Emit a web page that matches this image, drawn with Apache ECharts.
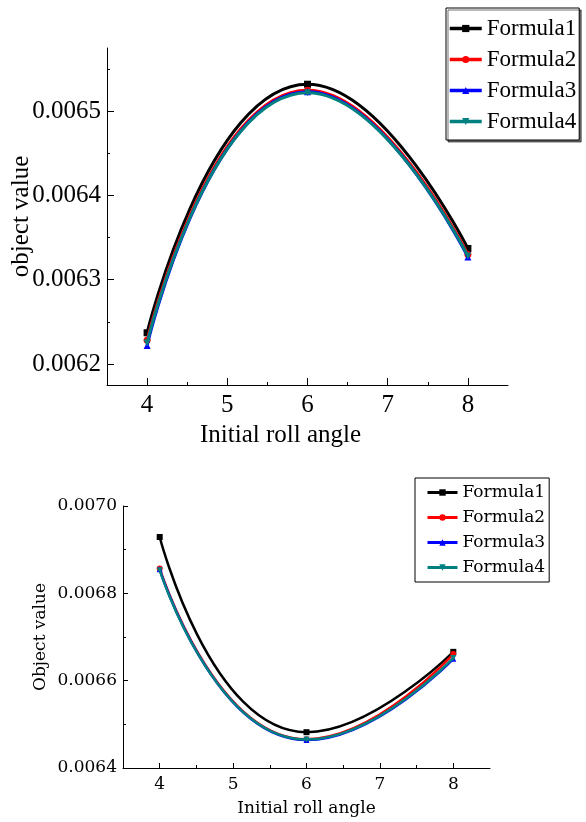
<!DOCTYPE html>
<html>
<head>
<meta charset="utf-8">
<script src="https://cdn.jsdelivr.net/npm/echarts@6/dist/echarts.min.js"></script>
<style>
  html, body { margin: 0; padding: 0; background: #fff; }
  #chart { width: 586px; height: 822px; }
</style>
</head>
<body>
<div id="chart"></div>
<script>
// data
const angles = [4, 6, 8];
const names = ['Formula1', 'Formula2', 'Formula3', 'Formula4'];

// upper chart
const topF1 = [0.006237, 0.006532, 0.006337];
const topF2 = [0.006228, 0.006525, 0.006330];
const topF3 = [0.006222, 0.006523, 0.006327];
const topF4 = [0.006225, 0.006522, 0.006328];

// lower chart
const botF1 = [0.006929, 0.006482, 0.006666];
const botF2 = [0.006857, 0.006466, 0.006661];
const botF3 = [0.006855, 0.006464, 0.006650];
const botF4 = [0.006853, 0.006465, 0.006652];

const xTicks = [4, 5, 6, 7, 8];
const xMinor = [4.5, 5.5, 6.5, 7.5];
const topYTicks = [0.0062, 0.0063, 0.0064, 0.0065];
const topYMinor = [0.00625, 0.00635, 0.00645, 0.00655];
const botYTicks = [0.0064, 0.0066, 0.0068, 0.0070];
const botYMinor = [0.0065, 0.0067, 0.0069];

const colors = ['#000000', '#ff0000', '#0000ff', '#008080'];
const symbols = ['rect', 'circle', 'triangle', 'triangle'];
const rotates = [0, 0, 0, 180];

const serifTop = '"Liberation Serif", "Times New Roman", Times, serif';
const serifBot = '"DejaVu Serif", serif';

const chart = echarts.init(document.getElementById('chart'));

const pair = (vals) => angles.map((a, i) => [a, vals[i]]);

function makeSeries(list, axisIdx, lw, size) {
    return list.map((vals, i) => ({
        name: names[i],
        type: 'line',
        xAxisIndex: axisIdx,
        yAxisIndex: axisIdx,
        smooth: 0.55,
        data: pair(vals),
        symbol: symbols[i],
        symbolRotate: rotates[i],
        symbolSize: size,
        showSymbol: true,
        color: colors[i],
        lineStyle: {width: lw, color: colors[i]},
        itemStyle: {color: colors[i]},
        z: 2 + i
    }));
}

// main axis + overlay axis for the short minor ticks
function xAxes(grid, min, max, font, size, len, name, nameGap, pad) {
    return [{
        type: 'value', gridIndex: grid, position: 'bottom', min: min, max: max,
        name: name, nameLocation: 'middle', nameGap: nameGap, nameMoveOverlap: false,
        nameTextStyle: {fontFamily: font, fontSize: size, color: '#000', padding: pad},
        axisLine: {show: true, lineStyle: {color: '#000', width: 1}},
        axisTick: {show: true, inside: true, length: len, customValues: xTicks, lineStyle: {color: '#000'}},
        axisLabel: {customValues: xTicks, fontFamily: font, fontSize: size, color: '#000', margin: 8},
        splitLine: {show: false}
    }, {
        type: 'value', gridIndex: grid, position: 'bottom', min: min, max: max,
        axisLine: {show: false},
        axisTick: {show: true, inside: true, length: 3, customValues: xMinor, lineStyle: {color: '#000'}},
        axisLabel: {show: false},
        splitLine: {show: false}
    }];
}

function yAxes(grid, min, max, ticks, minor, font, size, len, name, nameGap) {
    return [{
        type: 'value', gridIndex: grid, position: 'left', min: min, max: max,
        name: name, nameLocation: 'middle', nameGap: nameGap, nameRotate: 90, nameMoveOverlap: false,
        nameTextStyle: {fontFamily: font, fontSize: size, color: '#000'},
        axisLine: {show: true, lineStyle: {color: '#000', width: 1}},
        axisTick: {show: true, inside: true, length: len, customValues: ticks, lineStyle: {color: '#000'}},
        axisLabel: {
            customValues: ticks, fontFamily: font, fontSize: size, color: '#000', margin: 6,
            formatter: v => v.toFixed(4)
        },
        splitLine: {show: false}
    }, {
        type: 'value', gridIndex: grid, position: 'left', min: min, max: max,
        axisLine: {show: false},
        axisTick: {show: true, inside: true, length: 3, customValues: minor, lineStyle: {color: '#000'}},
        axisLabel: {show: false},
        splitLine: {show: false}
    }];
}

const xa = xAxes(0, 3.5, 8.5, serifTop, 25, 7, 'Initial roll angle', 38, [0, 54, 0, 0])
    .concat(xAxes(1, 3.5, 8.5, serifBot, 17, 5, 'Initial roll angle', 32, 0));
const ya = yAxes(0, 0.006175, 0.006575, topYTicks, topYMinor, serifTop, 25, 7, 'object value', 73)
    .concat(yAxes(1, 0.0064, 0.0070, botYTicks, botYMinor, serifBot, 17, 5, 'Object value', 74));

// series use axis 0 (top) and axis 2 (bottom)
const series = makeSeries([topF1, topF2, topF3, topF4], 0, 3, 7)
    .concat(makeSeries([botF1, botF2, botF3, botF4], 2, 2.5, 6));

chart.setOption({
    animation: false,
    backgroundColor: '#fff',
    grid: [
        {left: 107, top: 48, width: 401, height: 337, outerBoundsMode: 'none', containLabel: false},
        {left: 123, top: 506, width: 367, height: 262, outerBoundsMode: 'none', containLabel: false}
    ],
    xAxis: xa,
    yAxis: ya,
    legend: [{
        data: names,
        orient: 'vertical',
        left: 446, top: 8,
        padding: [9, 3, 7, 2],
        itemGap: 8,
        itemWidth: 32, itemHeight: 9,
        borderColor: '#000', borderWidth: 1,
        backgroundColor: '#fff',
        shadowColor: 'rgba(0,0,0,0.55)', shadowBlur: 0, shadowOffsetX: 2, shadowOffsetY: 2,
        lineStyle: {width: 3.5},
        textStyle: {fontFamily: serifTop, fontSize: 23, color: '#000'}
    }, {
        data: names,
        orient: 'vertical',
        left: 415, top: 478,
        padding: [6, 4, 6, 11],
        itemGap: 8,
        itemWidth: 30, itemHeight: 8,
        borderColor: '#000', borderWidth: 1,
        backgroundColor: '#fff',
        lineStyle: {width: 3},
        textStyle: {fontFamily: serifBot, fontSize: 17, color: '#000'}
    }],
    series: series
});
</script>
</body>
</html>
